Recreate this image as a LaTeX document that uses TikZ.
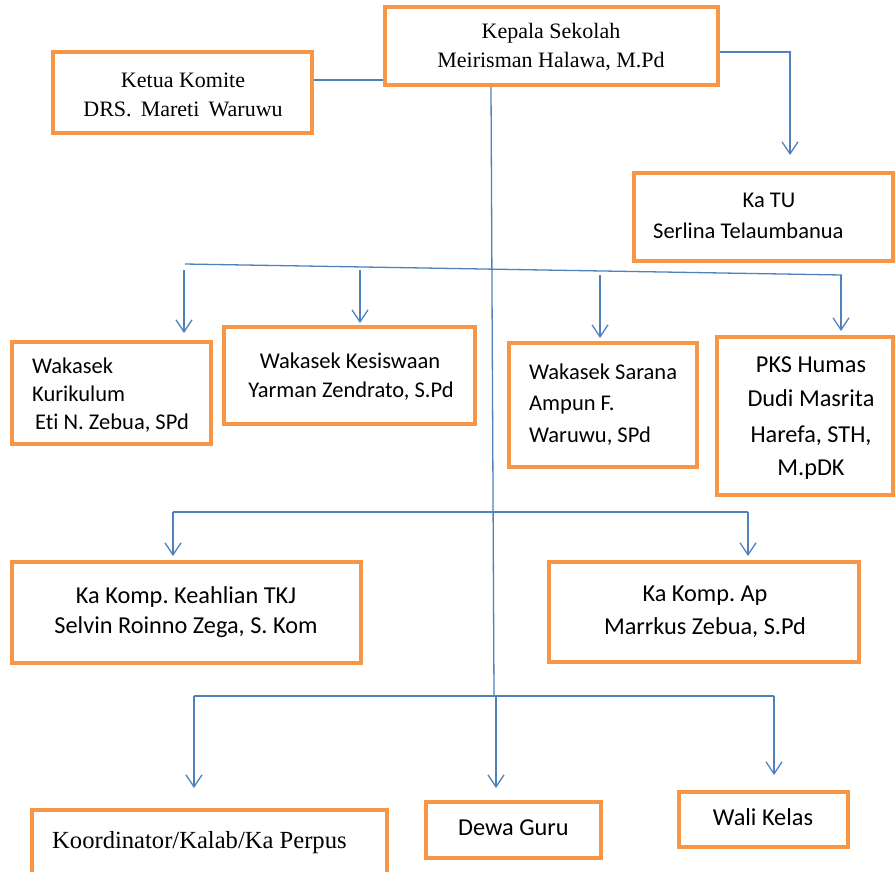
\documentclass[tikz,border=0pt]{standalone}
\usepackage{fontspec}
\setmainfont{Liberation Serif}
\newfontfamily\calfont[Ligatures=NoCommon]{Carlito}
\usetikzlibrary{arrows.meta}
\definecolor{boxorange}{RGB}{247,150,70}
\definecolor{lineblue}{RGB}{79,129,189}
\frenchspacing
\begin{document}
\begin{tikzpicture}[x=1pt,y=-1pt,
  box/.style={draw=boxorange,line width=4pt,inner sep=0pt,rectangle},
  conn/.style={draw=lineblue,line width=1.3pt},
  arr/.style={conn,-{Straight Barb[length=12pt,width=16pt,line width=1.3pt]}},
  serA/.style={font=\fontsize{22}{29}\selectfont,inner sep=0pt},
  serB/.style={font=\fontsize{24.6}{30}\selectfont,inner sep=0pt},
  sanA/.style={font=\calfont\fontsize{22.5}{29}\selectfont,inner sep=0pt},
  sanB/.style={font=\calfont\fontsize{24.3}{30}\selectfont,inner sep=0pt},
]
\useasboundingbox (0,0) rectangle (896,871);
\clip (0,0) rectangle (896,871);

% boxes
\node[box,minimum width=333pt,minimum height=78pt] (kep) at (551.5,46) {};
\node[box,minimum width=259pt,minimum height=81pt] (kom) at (182.5,92.5) {};
\node[box,minimum width=259pt,minimum height=88pt] (tu) at (763.5,217) {};
\node[box,minimum width=199pt,minimum height=102pt] (kur) at (111.5,393) {};
\node[box,minimum width=251pt,minimum height=97pt] (kes) at (349.5,375.5) {};
\node[box,minimum width=188pt,minimum height=124pt] (sar) at (603,405) {};
\node[box,minimum width=176pt,minimum height=158pt] (pks) at (805,416) {};
\node[box,minimum width=349pt,minimum height=101pt] (tkj) at (186.5,612.5) {};
\node[box,minimum width=310pt,minimum height=100pt] (ap) at (704,612) {};
\node[box,minimum width=355pt,minimum height=80pt] (koo) at (209.5,850) {};
\node[box,minimum width=175pt,minimum height=56pt] (dew) at (513.5,830) {};
\node[box,minimum width=169pt,minimum height=55pt] (wal) at (763.5,819.5) {};

% texts
\node[serA,anchor=base] (t1) at (551,38) {Kepala Sekolah};
\node[serA,anchor=base] (t2) at (551,67) {Meirisman Halawa, M.Pd};
\node[serA,anchor=base] (t3) at (183,87) {Ketua Komite};
\node[serA,anchor=base] (t4) at (183,116) {DRS.\ \,Mareti\ \,Waruwu};
\node[sanA,anchor=base] (t5) at (769,207) {Ka TU};
\node[sanA,anchor=base west] (t6) at (653,238) {Serlina Telaumbanua};
\node[sanA,anchor=base west] (t7) at (32,373) {Wakasek};
\node[sanA,anchor=base west] (t8) at (32,401) {Kurikulum};
\node[sanA,anchor=base west] (t9) at (35,429) {Eti N. Zebua, SPd};
\node[sanA,anchor=base] (t10) at (350,368) {Wakasek Kesiswaan};
\node[sanA,anchor=base] (t11) at (351,397) {Yarman Zendrato, S.Pd};
\node[sanA,anchor=base west] (t12) at (529,379) {Wakasek Sarana};
\node[sanA,anchor=base west] (t13) at (529,410) {Ampun F.};
\node[sanA,anchor=base west] (t14) at (529,442) {Waruwu, SPd};
\node[sanB,anchor=base] (t15) at (811,372) {PKS Humas};
\node[sanB,anchor=base] (t16) at (811,406) {Dudi Masrita};
\node[sanB,anchor=base] (t17) at (811,442) {Harefa, STH,};
\node[sanB,anchor=base] (t18) at (811,475) {M.pDK};
\node[sanB,anchor=base] (t19) at (186,603) {Ka Komp. Keahlian TKJ};
\node[sanB,anchor=base] (t20) at (186,633) {Selvin Roinno Zega, S. Kom};
\node[sanB,anchor=base] (t21) at (705,601) {Ka Komp. Ap};
\node[sanB,anchor=base] (t22) at (705,634) {Marrkus Zebua, S.Pd};
\node[serB,anchor=base west] (t23) at (52,848) {Koordinator/Kalab/Ka Perpus};
\node[sanB,anchor=base west] (t24) at (458,835) {Dewa Guru};
\node[sanB,anchor=base] (t25) at (763,825) {Wali Kelas};

% coordinates
\coordinate (komy) at (0,80);
\coordinate (tuy) at (0,52);
\coordinate (tux) at (790,0);
\coordinate (trT) at (491,0);
\coordinate (trB) at (494,696);
\coordinate (b2L) at (185,264);
\coordinate (b2R) at (842,275);
\coordinate (v1) at (184,270);
\coordinate (v2) at (360,270);
\coordinate (v3) at (600,275);
\coordinate (v4) at (841,275);
\coordinate (b3L) at (173,512);
\coordinate (b3R) at (748,512);
\coordinate (b4L) at (194,696);
\coordinate (b4R) at (774,696);
\coordinate (b4M) at (496,696);

% connectors
\draw[conn] (kom.east |- komy) -- (kep.west |- komy);
\draw[arr,shorten >=16pt] (kep.east |- tuy) -| (tux |- tu.north);
\draw[conn] (kep.south -| trT) -- (trB);
\draw[conn] (b2L) -- (b2R);
\draw[arr,shorten >=7pt] (v1) -- (v1 |- kur.north);
\draw[arr,shorten >=2pt] (v2) -- (v2 |- kes.north);
\draw[arr,shorten >=3pt] (v3) -- (v3 |- sar.north);
\draw[arr,shorten >=4pt] (v4) -- (v4 |- pks.north);
\draw[conn] (b3L) -- (b3R);
\draw[arr,shorten >=4pt] (b3L) -- (b3L |- tkj.north);
\draw[arr,shorten >=4pt] (b3R) -- (b3R |- ap.north);
\draw[conn] (b4L) -- (b4R);
\draw[arr,shorten >=20pt] (b4L) -- (b4L |- koo.north);
\draw[arr,shorten >=12pt] (b4M) -- (b4M |- dew.north);
\draw[arr,shorten >=15pt] (b4R) -- (b4R |- wal.north);
\end{tikzpicture}
\end{document}
